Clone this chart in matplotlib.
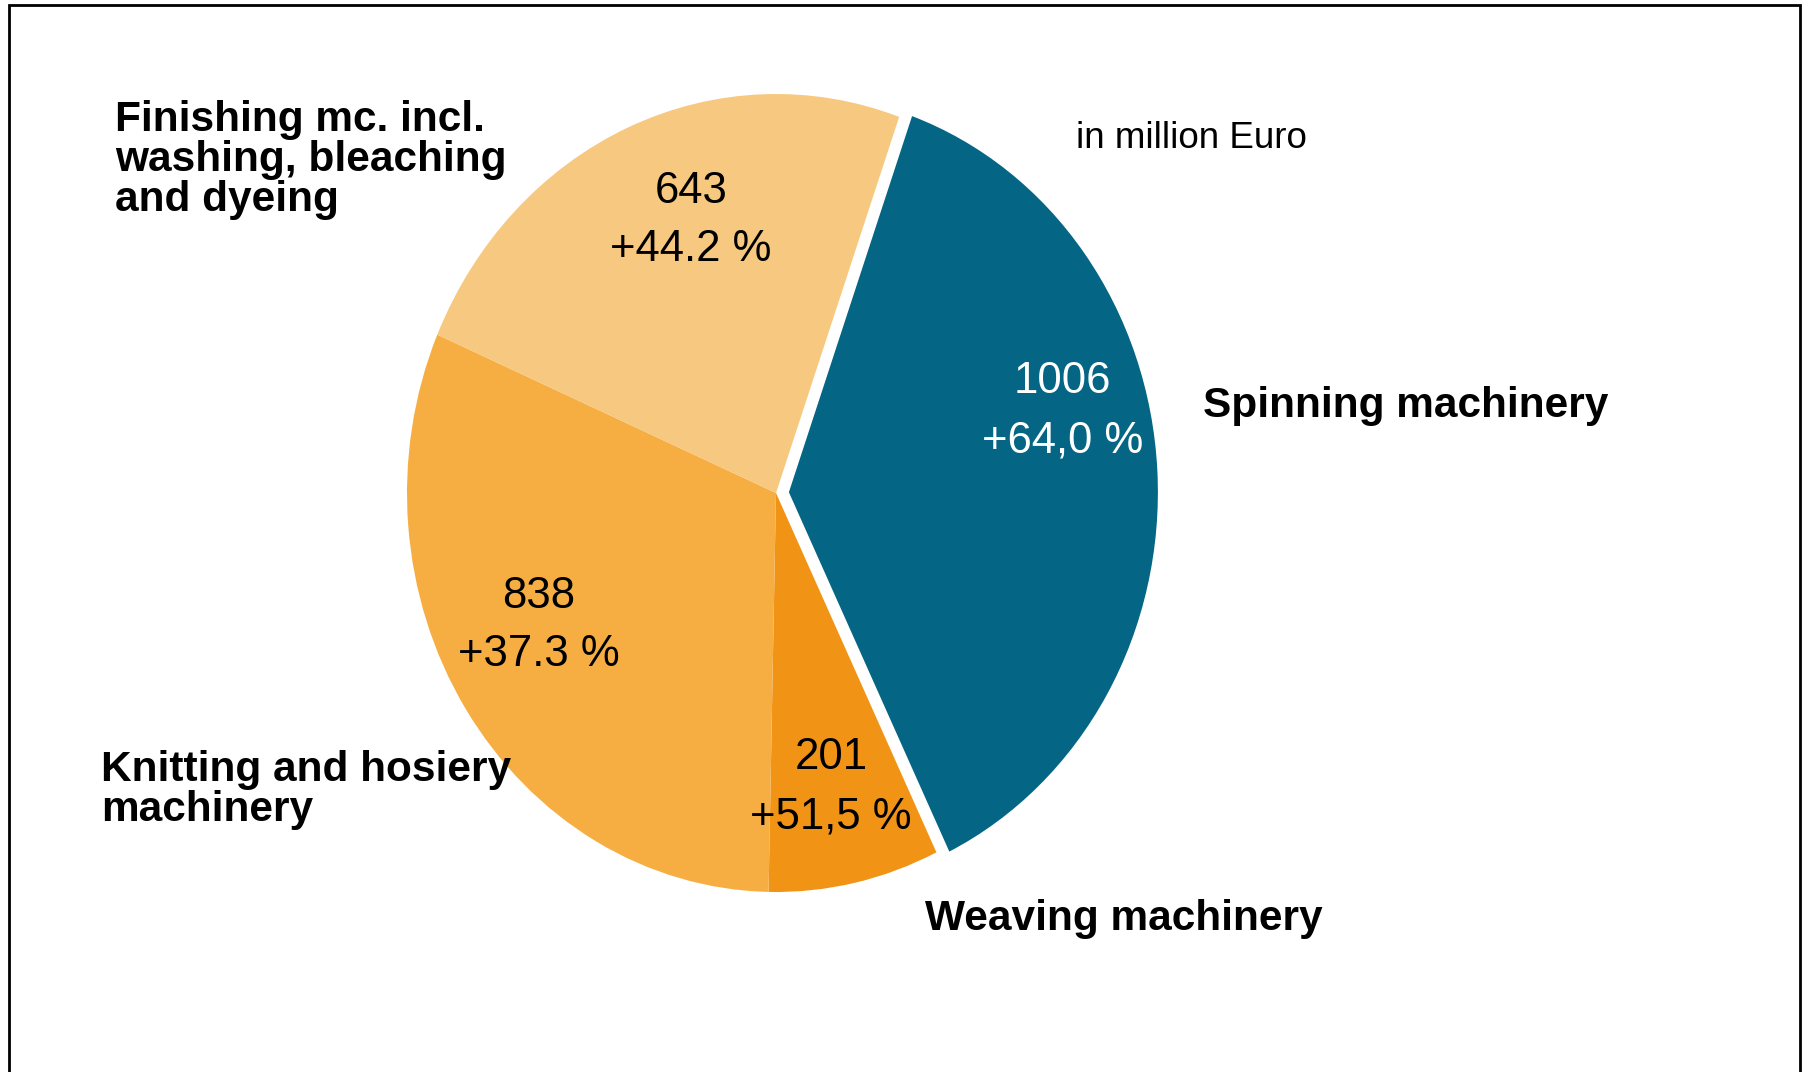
import matplotlib
matplotlib.use("Agg")
import matplotlib.pyplot as plt
from matplotlib.patches import Rectangle

plt.rcParams['font.family'] = ['Liberation Sans', 'DejaVu Sans']

# textile machinery exports, in million Euro
segments = ['Spinning machinery', 'Weaving machinery',
            'Knitting and hosiery\nmachinery',
            'Finishing mc. incl.\nwashing, bleaching\nand dyeing']
values = [1006, 201, 838, 643]
changes = ['+64,0 %', '+51,5 %', '+37.3 %', '+44.2 %']
colors = ['#046584', '#F19315', '#F6AE42', '#F7C87F']
value_colors = ['white', 'black', 'black', 'black']
explode = [0.035, 0, 0, 0]

W, H = 1802, 1072
fig = plt.figure(figsize=(W / 100, H / 100), dpi=100)


def px(x, y):
    return x / W, 1 - y / H


# pie centre and radii in pixels (drawing is a bit taller than wide)
cx, cy, rx, ry = 776, 493, 369, 399
lim = 1.2
ax = fig.add_axes([(cx - lim * rx) / W, 1 - (cy + lim * ry) / H,
                   2 * lim * rx / W, 2 * lim * ry / H])
ax.pie(values, colors=colors, explode=explode, startangle=70.5,
       counterclock=False, radius=1, wedgeprops=dict(linewidth=0))
ax.set_aspect('auto')
ax.set_xlim(-lim, lim)
ax.set_ylim(-lim, lim)
ax.axis('off')

# value / change labels inside the slices (data coords)
label_pos = [(0.776, 0.205), (0.149, -0.7375), (-0.643, -0.3325), (-0.23, 0.6825)]
for v, c, (lx, ly), tc in zip(values, changes, label_pos, value_colors):
    ax.text(lx, ly, f"{v}\n{c}", ha='center', va='center', fontsize=31.5,
            color=tc, linespacing=1.55)

# category names around the pie
name_pos = [(1203, 406), (925, 919), (101, 790), (115, 160)]
for name, (x, y) in zip(segments, name_pos):
    fig.text(*px(x, y), name, ha='left', va='center', fontsize=30.5,
             fontweight='bold', linespacing=1.0)

fig.text(*px(1076, 138), 'in million Euro', ha='left', va='center', fontsize=26.5)

# outer frame, open at the bottom edge
fig.add_artist(Rectangle(px(9, 1100), (1800 - 9) / W, (1100 - 5) / H,
                         transform=fig.transFigure, fill=False,
                         edgecolor='black', linewidth=2))

fig.savefig('out.png', dpi=100, facecolor='white')
